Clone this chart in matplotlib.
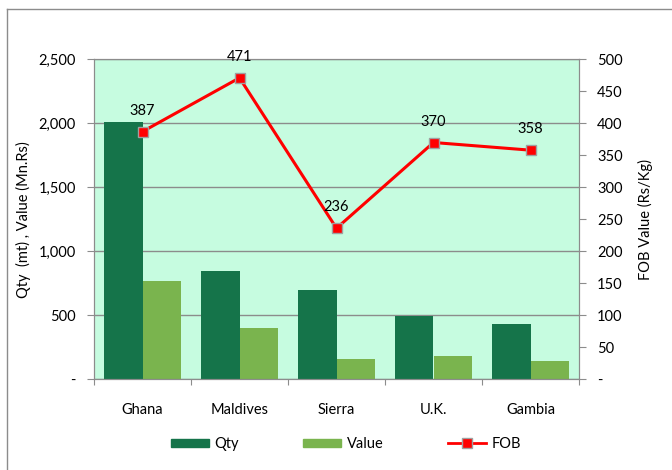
import matplotlib
matplotlib.use("Agg")
from matplotlib import pyplot as plt
from matplotlib.lines import Line2D
from matplotlib.patches import Patch
import numpy as np

countries = ["Ghana", "Maldives", "Sierra", "U.K.", "Gambia"]
qty = [2010, 850, 695, 495, 435]
value = [770, 400, 160, 180, 145]
fob = [387, 471, 236, 370, 358]

dark = "#15744A"
light = "#7AB44E"
bg = "#C6FCE0"
grey = "#8C8C8C"

plt.rcParams['font.family'] = ['Lato', 'DejaVu Sans']
plt.rcParams['font.size'] = 10.5

fig = plt.figure(figsize=(6.72, 4.70), dpi=100)
ax = fig.add_axes([94/672, 1-379.3/470, (579-94)/672, (379.3-59.3)/470])
ax.set_facecolor(bg)

x = np.arange(len(countries))
w = 0.4
ax.bar(x - w/2, qty, w, color=dark, zorder=2)
ax.bar(x + w/2, value, w, color=light, zorder=2)

ax.set_xlim(-0.5, len(countries) - 0.5)
ax.set_ylim(0, 2500)
ax.set_yticks(np.arange(0, 2501, 500))
ax.set_yticklabels(["-"] + [f"{v:,}" for v in range(500, 2501, 500)])
ax.yaxis.grid(True, color=grey, linewidth=1, zorder=1)
ax.set_axisbelow(True)
ax.set_xticks(np.arange(-0.5, len(countries), 1))
ax.set_xticklabels([])
ax.set_xticks(x, minor=True)
ax.set_xticklabels(countries, minor=True)
ax.tick_params(axis='x', which='minor', length=0, pad=17)
ax.tick_params(axis='x', which='major', length=4, color=grey)
ax.tick_params(axis='y', length=5, color=grey, pad=8)
ax.set_ylabel("Qty  (mt) , Value (Mn.Rs)", va="center")
ax.yaxis.set_label_coords((23 - 94) / 485, 0.5)
for s in ax.spines.values():
    s.set_color(grey)

ax2 = ax.twinx()
ax2.plot(x, fob, color="#FF0000", linewidth=2.2, marker="s", markersize=7,
         markerfacecolor="#FF0000", markeredgecolor="#A0A0A0", markeredgewidth=1, zorder=3)
ax2.set_ylim(0, 500)
ax2.set_yticks(np.arange(0, 501, 50))
ax2.set_yticklabels(["-"] + [str(v) for v in range(50, 501, 50)])
ax2.tick_params(axis='y', length=5, color=grey, pad=8)
ax2.set_ylabel("FOB Value (Rs/Kg)", va="center")
ax2.yaxis.set_label_coords((645 - 94) / 485, 0.5)
for s in ax2.spines.values():
    s.set_color(grey)
for xi, v in zip(x, fob):
    ax2.annotate(str(v), (xi, v), xytext=(0, 10), textcoords="offset points",
                 ha="center", va="bottom")

handles = [Patch(color=dark, label="Qty"), Patch(color=light, label="Value"),
           Line2D([], [], color="#FF0000", linewidth=2, marker="s", markersize=7,
                  markerfacecolor="#FF0000", markeredgecolor="#A0A0A0", label="FOB")]
fig.legend(handles=handles, loc="center", bbox_to_anchor=(346/672, 1-444/470), ncol=3,
           frameon=False, handlelength=2.6, handleheight=0.5, columnspacing=4.4, handletextpad=0.4)

# outer chart border (left and top visible)
fig.add_artist(Line2D([7/672, 7/672], [0, 1-9/470], color=grey, linewidth=1.0))
fig.add_artist(Line2D([7/672, 1], [1-9/470, 1-9/470], color=grey, linewidth=1.0))

fig.savefig("out.png", dpi=100)
